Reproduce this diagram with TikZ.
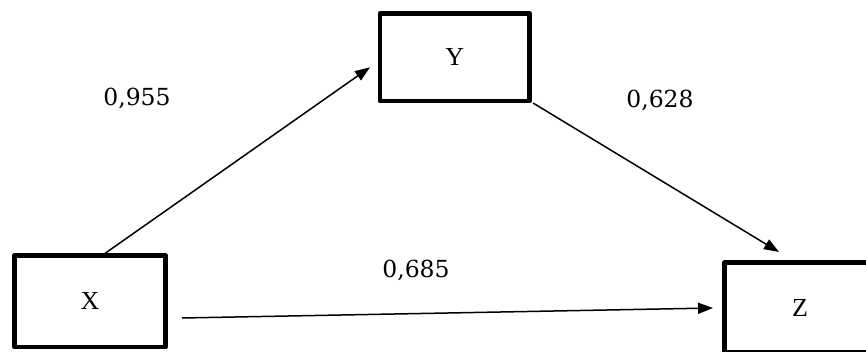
\documentclass[tikz,border=0pt]{standalone}
\usepackage{fontspec}
\setmainfont{Liberation Serif}
\newfontfamily\numfont{DejaVu Serif}
\usetikzlibrary{arrows.meta,calc}
\tikzset{
  box/.style={draw, line width=4.5pt, line join=round, inner sep=0pt, outer sep=0pt,
    font=\fontsize{26}{26}\selectfont},
  arr/.style={line width=1.5pt, -{Triangle[length=15pt,width=11pt]}},
  lab/.style={font=\numfont\fontsize{23.5}{24}\selectfont, inner sep=0pt}
}
\begin{document}
\begin{tikzpicture}[x=1pt,y=-1pt]
\useasboundingbox (0,0) rectangle (866,352);
\clip (0,0) rectangle (866,352);
\node[box, minimum width=151pt, minimum height=91.5pt] (X) at (90,301.25) {X};
\node[box, minimum width=149.5pt, minimum height=87.5pt] (Y) at (454.75,57.25) {Y};
\node[box, minimum width=151pt, minimum height=90pt] (Z) at (800,307.5) {Z};
\draw[arr] ($(X.north)+(12,0)$) -- ($(Y.west)+(-10,10)$);
\draw[arr] ($(Y.south east)+(3.5,2)$) -- ($(Z.north)+(-21,-10.5)$);
\draw[arr] ($(X.east)+(16.5,16.75)$) -- ($(Z.west)+(-11.5,0.5)$);
\node[lab] (l1) at (137,98) {0,955};
\node[lab] (l2) at (660,100) {0,628};
\node[lab] (l3) at (416,270) {0,685};
\end{tikzpicture}
\end{document}
